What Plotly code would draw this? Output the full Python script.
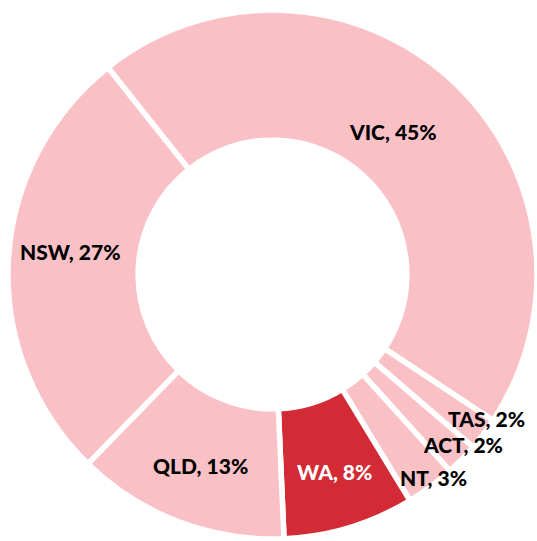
import plotly.graph_objects as go

categories = ["VIC", "TAS", "ACT", "NT", "WA", "QLD", "NSW"]
values = [45, 2, 2, 3, 8, 13, 27]
colors = ["#F9C1C6", "#F9C1C6", "#F9C1C6", "#F9C1C6", "#D22B36", "#F9C1C6", "#F9C1C6"]
label_colors = ["black", "black", "black", "black", "white", "black", "black"]
# label centre positions in pixels (layout only)
label_px = [(393, 131), (486, 418), (463, 444), (433, 477), (334, 471), (200, 465), (70, 251)]

W, H = 537, 541
L, R, T, B = 8, 0, 10, 2
pw, ph = W - L - R, H - T - B

fig = go.Figure(go.Pie(
    labels=categories,
    values=values,
    sort=False,
    direction="clockwise",
    rotation=-38.5,
    hole=0.508,
    marker=dict(colors=colors, line=dict(color="white", width=5.5)),
    textinfo="none",
    hoverinfo="label+percent",
    showlegend=False,
))

annotations = []
for c, v, col, (px, py) in zip(categories, values, label_colors, label_px):
    annotations.append(dict(
        text=f"{c}, {v}%",
        x=(px - L) / pw, y=1 - (py - T) / ph,
        xref="paper", yref="paper",
        xanchor="center", yanchor="middle",
        showarrow=False,
        font=dict(family="Lato", size=21, color=col, weight=900),
    ))

fig.update_layout(
    width=W, height=H,
    margin=dict(l=L, r=R, t=T, b=B),
    paper_bgcolor="white",
    plot_bgcolor="white",
    annotations=annotations,
)

fig.write_html(
    "out.html",
    config={"displayModeBar": False},
    post_script="document.body.style.margin='0';document.body.style.overflow='hidden';",
)
